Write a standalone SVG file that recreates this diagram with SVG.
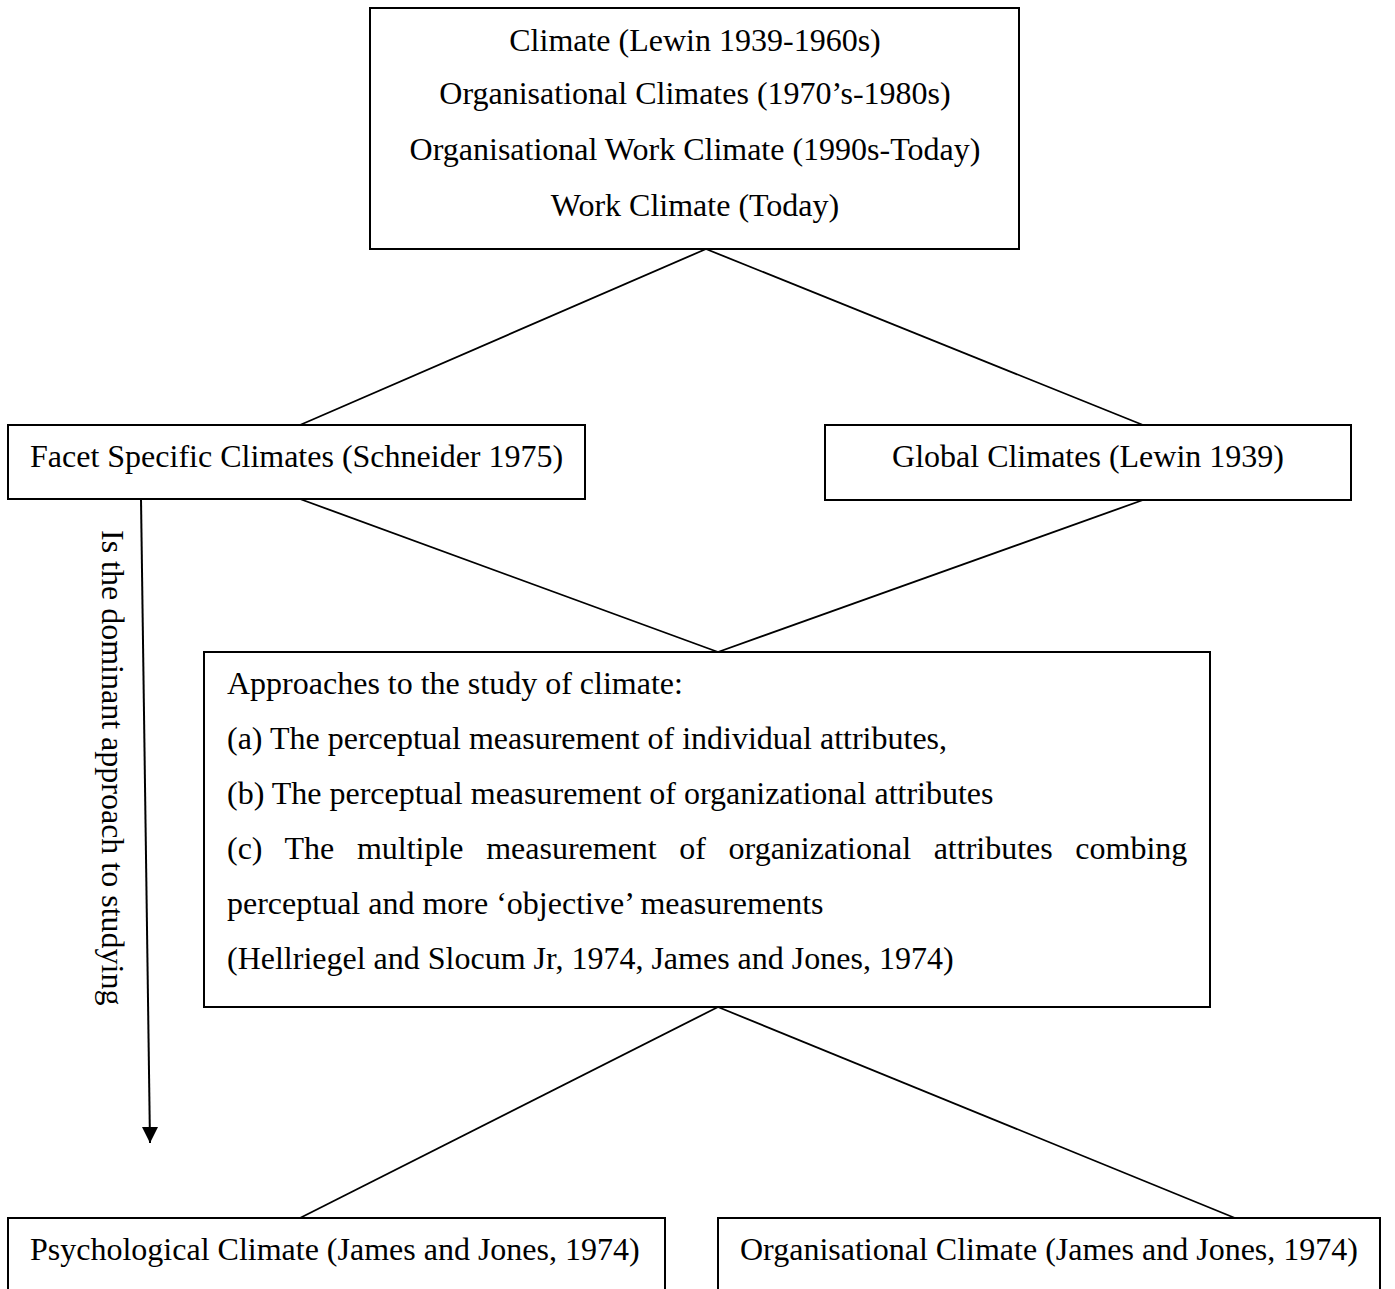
<svg xmlns="http://www.w3.org/2000/svg" width="1395" height="1289" viewBox="0 0 1395 1289">
  <style>
    .box { fill: #ffffff; stroke: #000000; stroke-width: 2; }
    .link { fill: none; stroke: #000000; stroke-width: 1.8; }
    .t { font-family: "Liberation Serif", "Times New Roman", serif; font-size: 32px; fill: #000000; }
    .c { text-anchor: middle; }
  </style>
  <defs>
    <marker id="arrowhead" viewBox="0 0 16 16" refX="8" refY="16" markerWidth="16" markerHeight="16" markerUnits="userSpaceOnUse" orient="auto-start-reverse">
      <path d="M0,0 L16,0 L8,16 Z" fill="#000000"/>
    </marker>
  </defs>
  <rect width="1395" height="1289" fill="#ffffff"/>

  <!-- connectors -->
  <g id="connectors">
    <line class="link" x1="706" y1="249" x2="300" y2="425"/>
    <line class="link" x1="706" y1="249" x2="1143" y2="425"/>
    <line class="link" x1="300" y1="499" x2="718" y2="652"/>
    <line class="link" x1="1143" y1="500" x2="718" y2="652"/>
    <line class="link" x1="718" y1="1007" x2="300" y2="1218"/>
    <line class="link" x1="718" y1="1007" x2="1235" y2="1218"/>
    <path id="dominant-arrow" d="M141,499 L150,1143" fill="none" stroke="#000000" stroke-width="2"/>
    <path d="M142,1127 L158,1127 L150,1143 Z" fill="#000000"/>
    <text class="t" transform="translate(102,530) rotate(90)">Is the dominant approach to studying</text>
  </g>

  <!-- history of the climate construct -->
  <g id="node-history">
    <rect class="box" x="370" y="8" width="649" height="241"/>
    <text class="t c" x="695" y="51">Climate (Lewin 1939-1960s)</text>
    <text class="t c" x="695" y="104">Organisational Climates (1970’s-1980s)</text>
    <text class="t c" x="695" y="160">Organisational Work Climate (1990s-Today)</text>
    <text class="t c" x="695" y="216">Work Climate (Today)</text>
  </g>

  <g id="node-facet">
    <rect class="box" x="8" y="425" width="577" height="74"/>
    <text class="t" x="30" y="467">Facet Specific Climates (Schneider 1975)</text>
  </g>

  <g id="node-global">
    <rect class="box" x="825" y="425" width="526" height="75"/>
    <text class="t c" x="1088" y="467">Global Climates (Lewin 1939)</text>
  </g>

  <g id="node-approaches">
    <rect class="box" x="204" y="652" width="1006" height="355"/>
    <text class="t" x="227" y="694">Approaches to the study of climate:</text>
    <text class="t" x="227" y="749">(a) The perceptual measurement of individual attributes,</text>
    <text class="t" x="227" y="804">(b) The perceptual measurement of organizational attributes</text>
    <text class="t" x="227" y="859" word-spacing="14.6">(c) The multiple measurement of organizational attributes combing</text>
    <text class="t" x="227" y="914">perceptual and more ‘objective’ measurements</text>
    <text class="t" x="227" y="969">(Hellriegel and Slocum Jr, 1974, James and Jones, 1974)</text>
  </g>

  <g id="node-psychological">
    <path class="box" d="M8,1295 L8,1218 L665,1218 L665,1295"/>
    <text class="t" x="30" y="1260">Psychological Climate (James and Jones, 1974)</text>
  </g>

  <g id="node-organisational">
    <path class="box" d="M718,1295 L718,1218 L1380,1218 L1380,1295"/>
    <text class="t" x="740" y="1260">Organisational Climate (James and Jones, 1974)</text>
  </g>
</svg>
